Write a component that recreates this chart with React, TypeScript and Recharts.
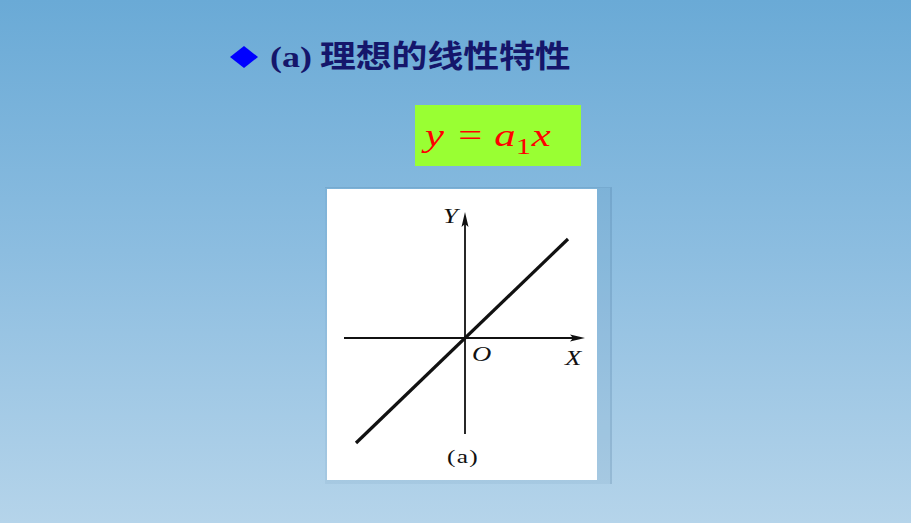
import React from "react";
import { LineChart, Line, XAxis, YAxis, ReferenceLine } from "recharts";

// 理想的线性特性 y = a1·x ：一条过原点的直线 + 带箭头的坐标轴

// ---------------------------------------------------------------------------
// 数据
// ---------------------------------------------------------------------------

const lineX = [-109, 103];
const lineY = [-105, 99];
const xDomain = [-121, 120];
const yDomain = [-105, 126];
// 竖轴只画到 -96（直线比竖轴更长）
const yAxisSpan = [-96, 126];

const chartData = lineX.map((x, i) => ({ x, y: lineY[i] }));

// 原图是 4:3 幻灯片被横向拉伸到 16:9
const STRETCH = 911 / 683;

const INK = "#111";
const NAVY = "#15166b";

// ---------------------------------------------------------------------------
// Helpers
// ---------------------------------------------------------------------------

function ArrowAxis(props: any) {
  const { x1, y1, x2, y2 } = props;
  if (x1 == null || y1 == null) return null;
  if (Math.abs(x1 - x2) < 0.5) {
    // 竖轴，箭头朝上
    const top = Math.min(y1, y2);
    const bot = Math.max(y1, y2);
    return (
      <g>
        <line x1={x1} y1={top + 10} x2={x1} y2={bot} stroke={INK} strokeWidth={1.8} />
        <polygon
          points={`${x1},${top} ${x1 - 3.5},${top + 15} ${x1},${top + 12} ${x1 + 3.5},${top + 15}`}
          fill={INK}
        />
      </g>
    );
  }
  // 横轴，箭头朝右
  const left = Math.min(x1, x2);
  const right = Math.max(x1, x2);
  return (
    <g>
      <line x1={left} y1={y1} x2={right - 10} y2={y1} stroke={INK} strokeWidth={1.8} />
      <polygon
        points={`${right},${y1} ${right - 15},${y1 - 3.5} ${right - 12},${y1} ${right - 15},${y1 + 3.5}`}
        fill={INK}
      />
    </g>
  );
}

function Txt({
  x,
  y,
  size,
  sx = STRETCH,
  children,
  style,
}: {
  x: number;
  y: number;
  size: number;
  sx?: number;
  children: React.ReactNode;
  style?: React.CSSProperties;
}) {
  return (
    <div
      style={{
        position: "absolute",
        left: x,
        top: y,
        fontSize: size,
        lineHeight: 1,
        whiteSpace: "nowrap",
        transform: `scaleX(${sx})`,
        transformOrigin: "left top",
        ...style,
      }}
    >
      {children}
    </div>
  );
}

const serifItalic: React.CSSProperties = {
  fontFamily: '"Liberation Serif", serif',
  fontStyle: "italic",
  color: INK,
};

// ---------------------------------------------------------------------------
// 组件
// ---------------------------------------------------------------------------

export default function App() {
  return (
    <div
      style={{
        position: "absolute",
        left: 0,
        top: 0,
        width: 911,
        height: 523,
        overflow: "hidden",
        background: "linear-gradient(to bottom, #6aaad6 0%, #8cbde0 48%, #b5d4ea 100%)",
      }}
    >
      {/* 标题 */}
      <svg style={{ position: "absolute", left: 230, top: 46 }} width={28} height={22}>
        <polygon points="14,0 28,11 14,22 0,11" fill="#0000ff" />
      </svg>
      <Txt
        x={270}
        y={43}
        size={29}
        sx={1.24}
        style={{ fontFamily: '"Liberation Serif", serif', fontWeight: 700, color: NAVY }}
      >
        (a)
      </Txt>
      <Txt
        x={320}
        y={38}
        size={31}
        sx={1.155}
        style={{ fontFamily: '"Noto Sans CJK SC", sans-serif', fontWeight: 700, color: NAVY }}
      >
        理想的线性特性
      </Txt>

      {/* 公式框 */}
      <div
        style={{
          position: "absolute",
          left: 415,
          top: 105,
          width: 166,
          height: 61,
          background: "#99ff33",
        }}
      />
      <div
        style={{
          position: "absolute",
          left: 425,
          top: 119,
          width: 100,
          height: 40,
          transform: `scaleX(${STRETCH})`,
          transformOrigin: "left top",
          fontFamily: '"Liberation Serif", serif',
          color: "#ff0000",
          lineHeight: 1,
        }}
      >
        <span style={{ position: "absolute", left: 0, top: 0, fontSize: 32, fontStyle: "italic" }}>y</span>
        <span style={{ position: "absolute", left: 25, top: 0, fontSize: 32 }}>=</span>
        <span style={{ position: "absolute", left: 52, top: 0, fontSize: 32, fontStyle: "italic" }}>a</span>
        <span style={{ position: "absolute", left: 68, top: 16, fontSize: 23 }}>1</span>
        <span style={{ position: "absolute", left: 80, top: 0, fontSize: 32, fontStyle: "italic" }}>x</span>
      </div>

      {/* 图片阴影 + 白底 */}
      <div
        style={{
          position: "absolute",
          left: 325,
          top: 187,
          width: 285,
          height: 296,
          background: "rgba(70,110,150,0.08)",
          borderRight: "2px solid rgba(70,110,150,0.16)",
          borderTop: "1px solid rgba(70,110,150,0.12)",
        }}
      />
      <div
        style={{
          position: "absolute",
          left: 327,
          top: 189,
          width: 270,
          height: 291,
          background: "#ffffff",
        }}
      />

      <div style={{ position: "absolute", left: 327, top: 189 }}>
        <LineChart
          width={270}
          height={291}
          data={chartData}
          margin={{ top: 23, right: 12, bottom: 37, left: 17 }}
        >
          <XAxis dataKey="x" type="number" domain={xDomain} hide />
          <YAxis type="number" domain={yDomain} hide />
          <ReferenceLine y={0} shape={ArrowAxis} />
          <ReferenceLine
            segment={[
              { x: 0, y: yAxisSpan[0] },
              { x: 0, y: yAxisSpan[1] },
            ]}
            shape={ArrowAxis}
          />
          <Line
            type="linear"
            dataKey="y"
            stroke={INK}
            strokeWidth={3.2}
            dot={false}
            activeDot={false}
            isAnimationActive={false}
          />
        </LineChart>
      </div>

      {/* 轴标签 */}
      <Txt x={443} y={206} size={20} style={serifItalic}>
        Y
      </Txt>
      <Txt x={472} y={344} size={20} style={serifItalic}>
        O
      </Txt>
      <Txt x={565} y={348} size={20} style={serifItalic}>
        X
      </Txt>
      <Txt
        x={447}
        y={447}
        size={19}
        style={{ fontFamily: '"Liberation Serif", serif', color: INK, letterSpacing: 1 }}
      >
        (a)
      </Txt>
    </div>
  );
}
